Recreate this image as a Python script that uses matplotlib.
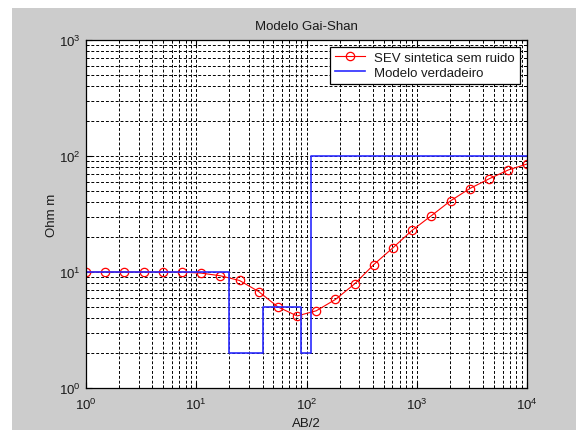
import matplotlib
matplotlib.use("Agg")
import matplotlib.pyplot as plt
from matplotlib.patches import Rectangle

# synthetic sounding (AB/2 in m, apparent resistivity in ohm m)
ab2 = [1.0, 1.493, 2.228, 3.327, 4.967, 7.416, 11.07, 16.53, 24.68, 36.84,
       55.01, 82.13, 122.6, 183.1, 273.3, 408.1, 609.2, 909.6, 1358.0,
       2027.0, 3027.0, 4520.0, 6748.0, 10000.0]
rho_app = [10.0, 10.0, 10.0, 10.0, 10.0, 9.98, 9.78, 9.28, 8.45, 6.78,
           5.0, 4.18, 4.63, 5.8, 7.9, 11.6, 16.2, 22.9, 30.6, 41.1,
           52.4, 63.5, 75.7, 85.3]

# true layered model (layer tops and resistivities)
depth = [1.0, 20.0, 40.0, 90.0, 110.0, 10000.0]
rho_true = [10.0, 2.0, 5.0, 2.0, 100.0, 100.0]

plt.rcParams["font.family"] = ["Liberation Sans", "DejaVu Sans"]
plt.rcParams["mathtext.fontset"] = "custom"
plt.rcParams["mathtext.rm"] = "Liberation Sans"
plt.rcParams["mathtext.default"] = "regular"
plt.rcParams["font.size"] = 9.5
txt = "#1a1a1a"

fig = plt.figure(figsize=(5.76, 4.31), dpi=100, facecolor="white")
fig.patches.append(Rectangle((12 / 576, 0), 1 - 12 / 576, (431 - 9) / 431,
                             transform=fig.transFigure, facecolor="#cccccc",
                             edgecolor="none", zorder=-10))

ax = fig.add_axes([86 / 576, 42 / 431, 441 / 576, 348 / 431])
ax.plot(ab2, rho_app, color="red", lw=0.8, marker="o", ms=6,
        mfc="none", mec="red", mew=0.9, label="SEV sintetica sem ruido")
ax.step(depth, rho_true, where="post", color="#2b2bff", lw=1.2,
        label="Modelo verdadeiro")

ax.set_xscale("log")
ax.set_yscale("log")
ax.set_xlim(1, 1e4)
ax.set_ylim(1, 1e3)
ax.set_axisbelow(True)
ax.grid(True, which="both", color="black", lw=0.7, linestyle=(0, (3, 2)))
ax.tick_params(which="both", direction="in", top=True, right=True,
               colors="black", labelcolor=txt, pad=4)
ax.tick_params(axis="x", which="major", pad=6)
ax.tick_params(which="major", length=4)
ax.tick_params(which="minor", length=2)
for s in ax.spines.values():
    s.set_linewidth(0.9)

ax.set_title("Modelo Gai-Shan", color=txt, fontsize=9.5, pad=8)
ax.set_xlabel("AB/2", color=txt, labelpad=4)
ax.set_ylabel("Ohm m", color=txt, labelpad=0.5)

leg = ax.legend(loc="upper right", fancybox=False, edgecolor="black",
                framealpha=1, borderaxespad=0.55, handlelength=2.3,
                handletextpad=0.7, borderpad=0.35, labelspacing=0.2)
leg.get_frame().set_linewidth(0.9)
for t in leg.get_texts():
    t.set_color(txt)

fig.savefig("out.png", dpi=100, facecolor=fig.get_facecolor())
